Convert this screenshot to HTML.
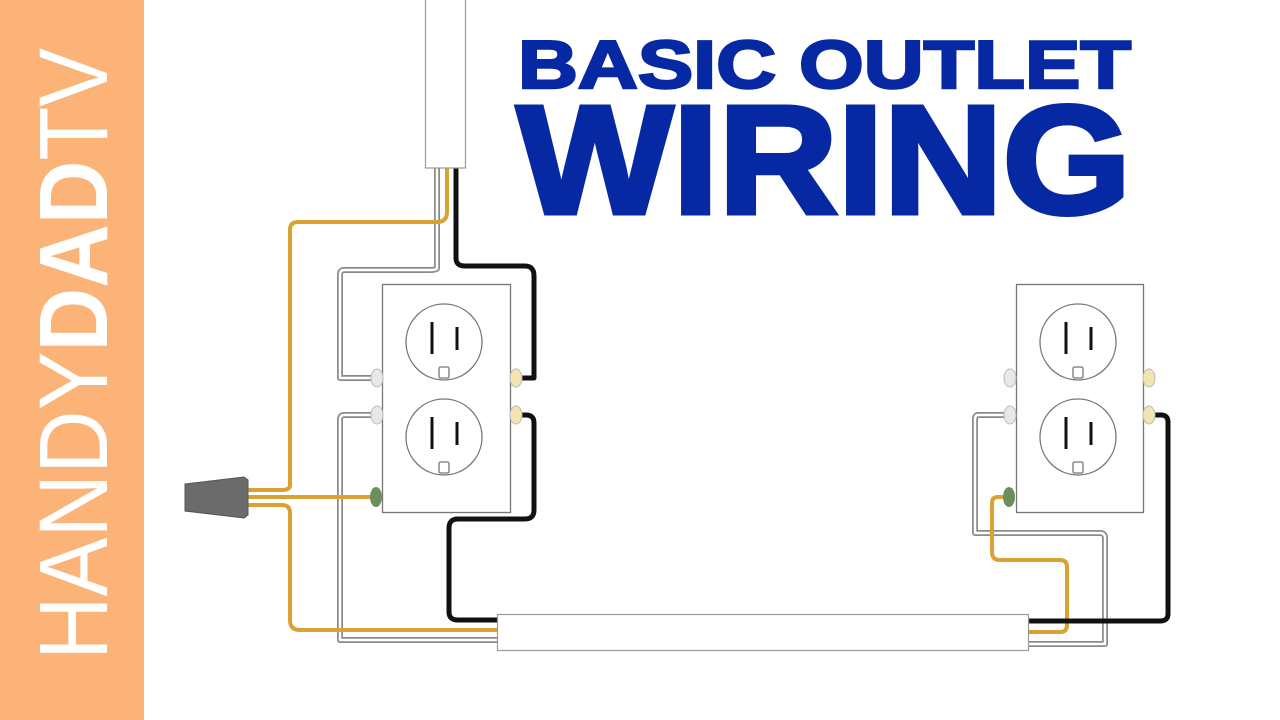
<!DOCTYPE html>
<html><head><meta charset="utf-8"><style>
html,body{margin:0;padding:0;background:#fff;}
svg{display:block;}
</style></head><body>
<svg width="1280" height="720" viewBox="0 0 1280 720" xmlns="http://www.w3.org/2000/svg">
<rect x="0" y="0" width="1280" height="720" fill="#fff"/>
<rect x="0" y="0" width="144" height="720" fill="#FBB377"/>
<text transform="translate(107,660) rotate(-90)" font-family="Liberation Sans, sans-serif" font-size="97" fill="#fff" textLength="612" lengthAdjust="spacingAndGlyphs">HANDY<tspan font-weight="bold">DAD</tspan>TV</text>

<text x="518" y="88" font-family="Liberation Sans, sans-serif" font-weight="bold" font-size="68" fill="#0628A3" stroke="#0628A3" stroke-width="2.5" textLength="613" lengthAdjust="spacingAndGlyphs">BASIC OUTLET</text>
<text x="517" y="213" font-family="Liberation Sans, sans-serif" font-weight="bold" font-size="154" fill="#0628A3" stroke="#0628A3" stroke-width="5" textLength="614" lengthAdjust="spacingAndGlyphs">WIRING</text>

<g fill="none" stroke-linejoin="round" stroke-linecap="round">
<g stroke="#8a8a8a" stroke-width="6">
<path d="M437 168 V268 Q437 270 430 270 H344 Q340 270 340 275 V378 H372"/>
<path d="M372 415 H344 Q340 415 340 420 V640 H497"/>
<path d="M1005 415 H978 Q975 415 975 420 V533 H1100 Q1105 533 1105 538 V644 H1028"/>
</g>
<g stroke="#fff" stroke-width="2.5">
<path d="M437 168 V268 Q437 270 430 270 H344 Q340 270 340 275 V378 H372"/>
<path d="M372 415 H344 Q340 415 340 420 V640 H497"/>
<path d="M1005 415 H978 Q975 415 975 420 V533 H1100 Q1105 533 1105 538 V644 H1028"/>
</g>
<g stroke="#D9A233" stroke-width="4">
<path d="M447 168 V212 Q447 222 437 222 H298 Q290 222 290 230 V485 Q290 490 282 490 H245"/>
<path d="M245 497 H372"/>
<path d="M245 505 H282 Q290 505 290 513 V620 Q290 630 300 630 H497"/>
<path d="M1005 497 H998 Q992 497 992 503 V552 Q992 560 1000 560 H1060 Q1067 560 1067 567 V625 Q1067 632 1060 632 H1028"/>
</g>
<g stroke="#111" stroke-width="5">
<path d="M456 168 V258 Q456 266 465 266 H525 Q534 266 534 276 V378 H520"/>
<path d="M520 415 H526 Q534 415 534 423 V510 Q534 519 525 519 H458 Q449 519 449 528 V612 Q449 620 458 620 H497"/>
<path d="M1155 415 H1161 Q1168 415 1168 422 V614 Q1168 621 1160 621 H1028"/>
</g>
</g>

<rect x="425.5" y="-2" width="40" height="170" fill="#fff" stroke="#999" stroke-width="1.2"/>
<rect x="497.5" y="614.5" width="531" height="36" fill="#fff" stroke="#999" stroke-width="1.2"/>

<polygon points="185,484 244,477 248,480 248,515 244,518 185,511" fill="#6b6b6b" stroke="#555" stroke-width="1"/>

<g stroke="#777" stroke-width="1.3" fill="#fff">
<rect x="382.5" y="284.5" width="128" height="228"/>
<circle cx="444" cy="342" r="38"/>
<circle cx="444" cy="437" r="38"/>
<rect x="439" y="367" width="10" height="11" rx="1.5"/>
<rect x="439" y="462" width="10" height="11" rx="1.5"/>
<rect x="1016.5" y="284.5" width="127" height="228"/>
<circle cx="1078" cy="342" r="38"/>
<circle cx="1078" cy="437" r="38"/>
<rect x="1073" y="367" width="10" height="11" rx="1.5"/>
<rect x="1073" y="462" width="10" height="11" rx="1.5"/>
</g>
<g stroke="#111" stroke-width="3">
<line x1="432" y1="322" x2="432" y2="354"/><line x1="457" y1="327" x2="457" y2="350"/>
<line x1="432" y1="417" x2="432" y2="449"/><line x1="457" y1="422" x2="457" y2="445"/>
<line x1="1066" y1="322" x2="1066" y2="354"/><line x1="1091" y1="327" x2="1091" y2="350"/>
<line x1="1066" y1="417" x2="1066" y2="449"/><line x1="1091" y1="422" x2="1091" y2="445"/>
</g>
<g stroke="#bbb" stroke-width="1">
<ellipse cx="377" cy="378" rx="6" ry="9" fill="#e8e8ec"/>
<ellipse cx="377" cy="415" rx="6" ry="9" fill="#e8e8ec"/>
<ellipse cx="516" cy="378" rx="6" ry="9" fill="#F3E4B2"/>
<ellipse cx="516" cy="415" rx="6" ry="9" fill="#F3E4B2"/>
<ellipse cx="1010" cy="378" rx="6" ry="9" fill="#e8e8ec"/>
<ellipse cx="1010" cy="415" rx="6" ry="9" fill="#e8e8ec"/>
<ellipse cx="1149" cy="378" rx="6" ry="9" fill="#F3E4B2"/>
<ellipse cx="1149" cy="415" rx="6" ry="9" fill="#F3E4B2"/>
</g>
<ellipse cx="376" cy="497" rx="6" ry="10" fill="#6C8E5C"/>
<ellipse cx="1009" cy="497" rx="6" ry="10" fill="#6C8E5C"/>
</svg>
</body></html>
